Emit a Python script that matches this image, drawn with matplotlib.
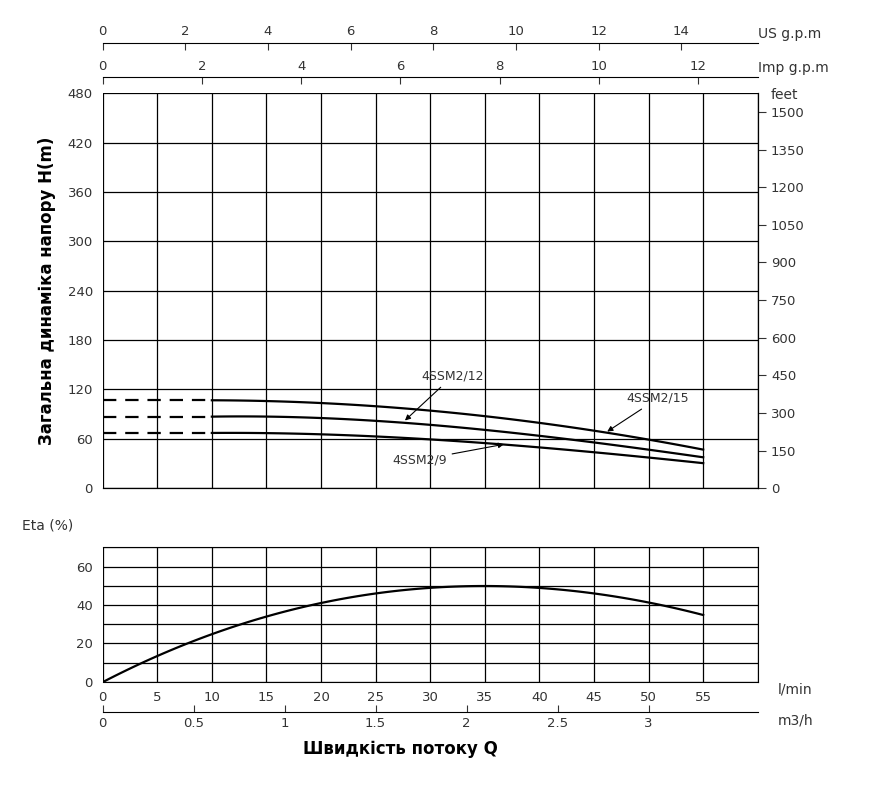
import numpy as np
import matplotlib
matplotlib.use("Agg")
from matplotlib import pyplot as plt

# flow in l/min
flow = [10, 20, 30, 40, 45, 50, 55]
head_15 = [107, 103, 95, 79, 70, 59, 47]
head_12 = [87, 85, 78, 62, 56, 48, 37]
head_9 = [67, 66, 59, 49, 44, 38, 30]
dash_heads = [107, 87, 67]

eta_flow = [0, 5, 10, 15, 20, 25, 30, 35, 40, 45, 50, 55]
eta = [0, 13, 25, 34, 41, 46, 49, 50, 49, 46, 41, 35]

plt.rcParams['font.family'] = ['DejaVu Sans']
fig = plt.figure(figsize=(8.7, 7.9), dpi=100)
tc = '#333333'

# ---- head chart
ax = fig.add_axes([0.118, 0.382, 0.753, 0.5])
ax.set_xlim(0, 60)
ax.set_ylim(0, 480)
ax.set_xticks(np.arange(0, 61, 5))
ax.set_yticks(np.arange(0, 481, 60))
ax.grid(True, color='black', lw=0.9)
ax.tick_params(axis='x', bottom=False, labelbottom=False)
ax.tick_params(axis='y', left=False, labelsize=9.5, colors=tc)
for s in ax.spines.values():
    s.set_linewidth(0.9)
ax.spines['left'].set_visible(False)
ax.spines['top'].set_visible(False)

# smooth the read points for drawing
xs = np.linspace(10, 55, 80)
for hd in [head_15, head_12, head_9]:
    ax.plot(xs, np.polyval(np.polyfit(flow, hd, 3), xs), color='black', lw=1.6)
for h in dash_heads:
    ax.plot([0, 10], [h, h], color='black', lw=1.6, ls=(0, (6, 4)))

ax.set_ylabel("Загальна динаміка напору H(m)", fontsize=12, fontweight='bold',
              labelpad=8)

arrow = dict(arrowstyle='-|>', color='black', lw=0.8, mutation_scale=8)
ax.annotate("4SSM2/12", xy=(27.5, 80), xytext=(29.2, 132), fontsize=9,
            arrowprops=arrow, color=tc)
ax.annotate("4SSM2/15", xy=(46, 67), xytext=(48, 105), fontsize=9,
            arrowprops=arrow, color=tc)
ax.annotate("4SSM2/9", xy=(37, 54), xytext=(26.5, 30), fontsize=9,
            arrowprops=arrow, color=tc)

# feet axis
axr = ax.secondary_yaxis('right', functions=(lambda m: m * 3.281, lambda f: f / 3.281))
axr.set_yticks(np.arange(0, 1501, 150))
axr.tick_params(labelsize=9.5, colors=tc, length=6)
axr.spines['right'].set_visible(False)
ax.text(1.02, 0.985, "feet", transform=ax.transAxes, fontsize=10, color=tc)

# gpm axes
us = ax.secondary_xaxis(1.127, functions=(lambda l: l / 3.785, lambda g: g * 3.785))
us.set_xticks(np.arange(0, 15, 2))
us.tick_params(labelsize=9.5, colors=tc, direction='in', length=5)
ax.text(1.0, 1.14, "US g.p.m", transform=ax.transAxes, fontsize=10, color=tc)
imp = ax.secondary_xaxis(1.04, functions=(lambda l: l / 4.546, lambda g: g * 4.546))
imp.set_xticks(np.arange(0, 13, 2))
imp.tick_params(labelsize=9.5, colors=tc, direction='in', length=5)
ax.text(1.0, 1.053, "Imp g.p.m", transform=ax.transAxes, fontsize=10, color=tc)

# ---- efficiency chart
ax2 = fig.add_axes([0.118, 0.137, 0.753, 0.17])
ax2.set_xlim(0, 60)
ax2.set_ylim(0, 70)
ax2.set_xticks(np.arange(0, 56, 5))
ax2.set_yticks(np.arange(0, 61, 20))
ax2.set_yticks(np.arange(0, 71, 10), minor=True)
ax2.grid(True, which='both', color='black', lw=0.9)
ax2.tick_params(which='both', bottom=False, left=False, labelsize=9.5, colors=tc)
ax2.spines['left'].set_visible(False)
ax2.axvline(60, color='black', lw=0.9)
ex = np.linspace(0, 55, 100)
ax2.plot(ex, np.polyval(np.polyfit(eta_flow, eta, 3), ex), color='black', lw=1.6)
ax2.text(1.03, -0.09, "l/min", transform=ax2.transAxes, fontsize=10, color=tc)
fig.text(0.025, 0.33, "Eta (%)", fontsize=10, color=tc)

m3 = ax2.secondary_xaxis(-0.224, functions=(lambda l: l * 0.06, lambda q: q / 0.06))
m3.set_xticks([0, 0.5, 1, 1.5, 2, 2.5, 3])
m3.set_xticklabels(['0', '0.5', '1', '1.5', '2', '2.5', '3'])
m3.tick_params(labelsize=9.5, colors=tc, direction='in', length=5)
ax2.text(1.03, -0.32, "m3/h", transform=ax2.transAxes, fontsize=10, color=tc)

fig.text(0.46, 0.045, "Швидкість потоку Q", fontsize=12, fontweight='bold', ha='center')

fig.savefig("out.png", dpi=100)
